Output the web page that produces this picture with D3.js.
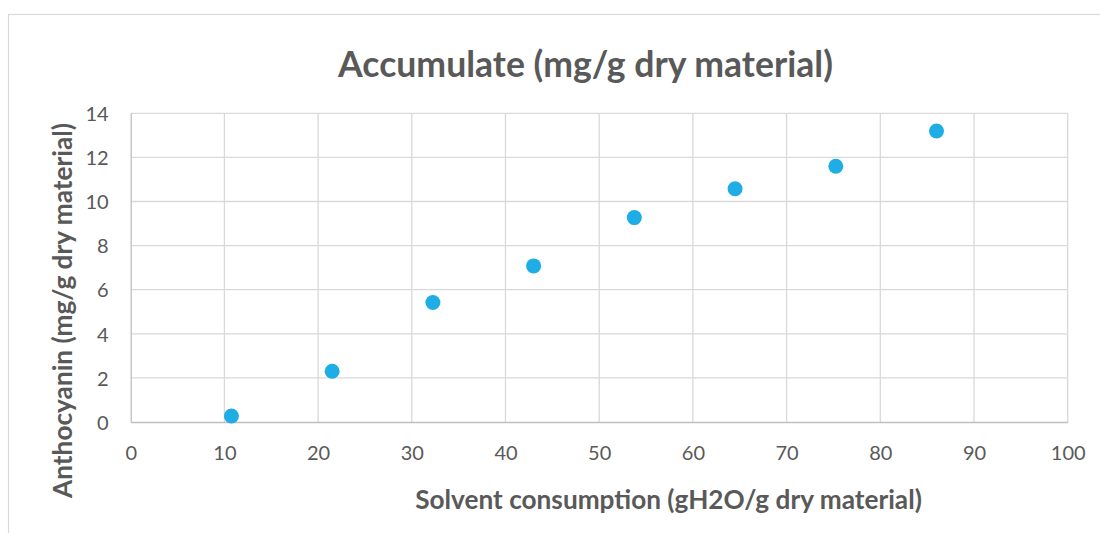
<!DOCTYPE html>
<html>
<head>
<meta charset="utf-8">
<script src="https://cdn.jsdelivr.net/npm/d3@7"></script>
<style>
  html, body { margin: 0; padding: 0; background: #ffffff; }
  svg { display: block; font-family: Lato, "Open Sans", "DejaVu Sans", sans-serif; }
</style>
</head>
<body>
<svg id="chart" width="1100" height="533"></svg>
<script>
// Solvent consumption (gH2O/g dry material) for each sample
const solvent = [10.75, 21.5, 32.25, 43, 53.75, 64.5, 75.25, 86];
// Accumulated anthocyanin (mg/g dry material)
const anthocyanin = [0.27, 2.3, 5.42, 7.08, 9.27, 10.58, 11.6, 13.2];
const xTicks = [0, 10, 20, 30, 40, 50, 60, 70, 80, 90, 100];
const yTicks = [0, 2, 4, 6, 8, 10, 12, 14];

const chartTitle = "Accumulate (mg/g dry material)";
const xTitle = "Solvent consumption (gH2O/g dry material)";
const yTitle = "Anthocyanin (mg/g dry material)";

const svg = d3.select("#chart");
const plot = { left: 130.7, right: 1067.7, top: 113.3, bottom: 422 };
const textColor = "#595959";
const gridColor = "#d9d9d9";
const fontFamily = 'Lato, "Open Sans", "DejaVu Sans", sans-serif';

// outer chart frame
svg.append("rect")
  .attr("x", 8.5).attr("y", 14.5)
  .attr("width", 1200).attr("height", 600)
  .attr("fill", "#ffffff")
  .attr("stroke", gridColor).attr("stroke-width", 1.2);

const x = d3.scaleLinear().domain([0, 100]).range([plot.left, plot.right]);
const y = d3.scaleLinear().domain([0, 14]).range([plot.bottom, plot.top]);

// gridlines
const grid = svg.append("g");
grid.selectAll("line.h").data(yTicks.filter(d => d > 0)).join("line")
  .attr("x1", plot.left).attr("x2", plot.right)
  .attr("y1", d => y(d)).attr("y2", d => y(d))
  .attr("stroke", gridColor).attr("stroke-width", 1.3);
grid.selectAll("line.v").data(xTicks.filter(d => d > 0)).join("line")
  .attr("x1", d => x(d)).attr("x2", d => x(d))
  .attr("y1", plot.top).attr("y2", plot.bottom)
  .attr("stroke", gridColor).attr("stroke-width", 1.3);

// axes
const xAxis = svg.append("g")
  .attr("transform", `translate(0,${plot.bottom})`)
  .call(d3.axisBottom(x).tickValues(xTicks).tickSize(0).tickFormat(d3.format("d")))
  .attr("font-family", fontFamily);
xAxis.select(".domain").attr("stroke", "#bfbfbf").attr("stroke-width", 1.3);
xAxis.selectAll("text")
  .attr("y", 38).attr("dy", null)
  .attr("fill", textColor).style("font-size", "20px");

const yAxis = svg.append("g")
  .attr("transform", `translate(${plot.left},0)`)
  .call(d3.axisLeft(y).tickValues(yTicks).tickSize(0).tickPadding(22).tickFormat(d3.format("d")))
  .attr("font-family", fontFamily);
yAxis.select(".domain").attr("stroke", "#bfbfbf").attr("stroke-width", 1.3);
yAxis.selectAll("text")
  .attr("dy", "0.36em")
  .attr("fill", textColor).style("font-size", "20px");
svg.selectAll(".tick line").remove();

// data points
const points = solvent.map((s, i) => ({ s, a: anthocyanin[i] }));
svg.append("g").selectAll("circle").data(points).join("circle")
  .attr("cx", d => x(d.s))
  .attr("cy", d => y(d.a))
  .attr("r", 7.5)
  .attr("fill", "#1eade4");

// scale a bold label so it spans the given width
function fitText(sel, width) {
  let size = 30;
  sel.style("font-size", size + "px");
  const w = sel.node().getComputedTextLength();
  size = size * width / w;
  sel.style("font-size", size + "px");
}

const t = svg.append("text")
  .attr("x", 585.5).attr("y", 77)
  .attr("text-anchor", "middle")
  .attr("font-weight", "bold")
  .attr("fill", textColor)
  .text(chartTitle);
fitText(t, 495);

const xt = svg.append("text")
  .attr("x", 668.5).attr("y", 509)
  .attr("text-anchor", "middle")
  .attr("font-weight", "bold")
  .attr("fill", textColor)
  .text(xTitle);
fitText(xt, 507);

const yt = svg.append("text")
  .attr("transform", "translate(72,310.5) rotate(-90)")
  .attr("text-anchor", "middle")
  .attr("font-weight", "bold")
  .attr("fill", textColor)
  .text(yTitle);
fitText(yt, 375);
</script>
</body>
</html>
